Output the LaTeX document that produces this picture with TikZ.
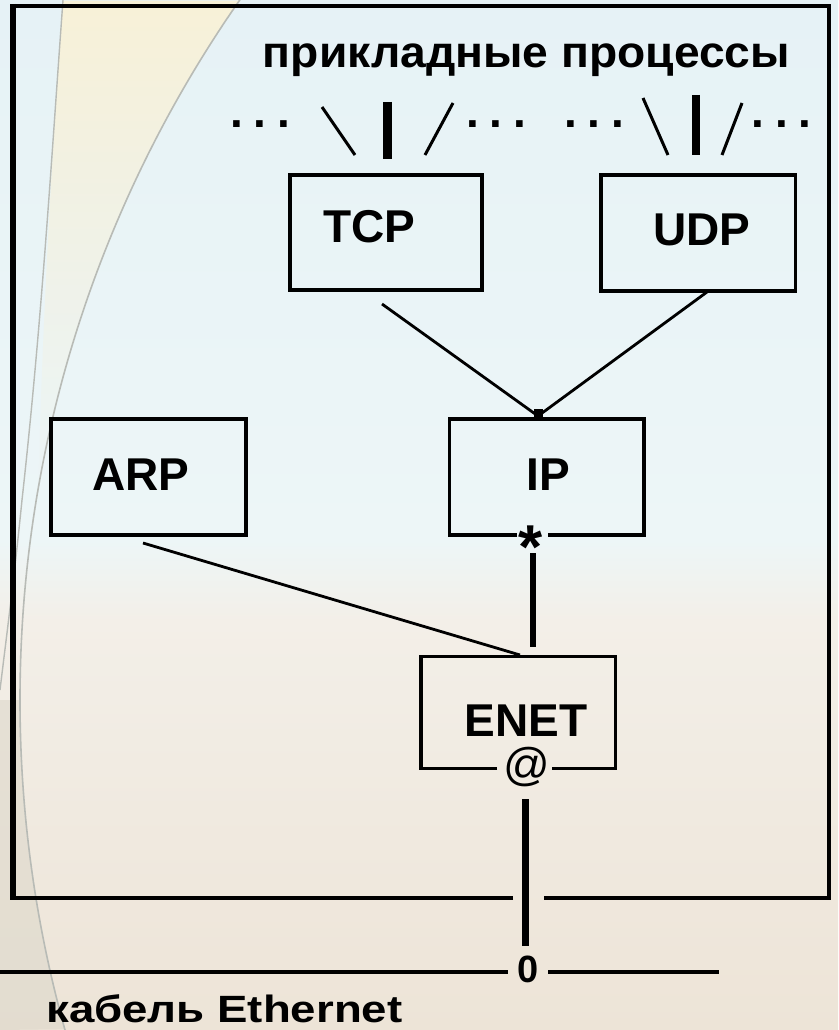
\documentclass[tikz,border=0pt]{standalone}
\usepackage{fontspec}
\setmainfont{Liberation Sans}
\newfontfamily\lblfont{Liberation Sans Bold}
\newfontfamily\topfont{Liberation Sans Bold}[FakeStretch=1.05]
\newfontfamily\cablefont{Liberation Sans Bold}[FakeStretch=1.2]
\usetikzlibrary{fadings}
\definecolor{bgtop}{HTML}{E6F2F6}
\definecolor{bgmid}{HTML}{F6FAFA}
\definecolor{bgband}{HTML}{EDF6F7}
\definecolor{bglow}{HTML}{F3EFE8}
\definecolor{bgbot}{HTML}{EDE4D7}
\definecolor{arcgrey}{HTML}{B8BBB6}
\definecolor{lensyellow}{HTML}{F8F1D8}
\definecolor{edgeblue}{HTML}{9CC8DC}
\definecolor{cornergrey}{HTML}{DDD8CB}
\tikzfading[name=vfade, top color=transparent!100, middle color=transparent!0, bottom color=transparent!100]
\begin{document}
\begin{tikzpicture}[x=1pt,y=-1pt,
  box/.style={draw=black, line width=3.5pt, rectangle, inner sep=0pt, outer sep=0pt},
  gapbox/.style={rectangle, inner sep=0pt, outer sep=0pt},
  boxline/.style={line width=3.5pt, line join=miter},
  lbl/.style={font=\lblfont\fontsize{46}{50}\selectfont, inner sep=0pt, anchor=base},
  dots/.style={font=\lblfont\fontsize{46}{50}\selectfont, inner sep=0pt, anchor=base},
  thinlink/.style={line width=2.8pt},
  slashline/.style={line width=3pt},
  barline/.style={line width=8.5pt},
  framethick/.style={line width=4.3pt},
]
\useasboundingbox (0,0) rectangle (838,1030);
% ---------- background ----------
\begin{scope}
  \clip (0,0) rectangle (838,1030);
  \shade[top color=bgtop, middle color=bgmid, bottom color=bgband] (0,0) rectangle (838,541);
  \shade[top color=bgband, bottom color=bglow] (0,540) rectangle (838,621);
  \shade[top color=bglow, bottom color=bgbot] (0,620) rectangle (838,1030);
  \fill[lensyellow, path fading=south] (63,0) -- (240,0)
     arc[start angle=214.9, end angle=190, radius=1224]
     .. controls (42,330) and (52,150) .. (63,0) -- cycle;
  \fill[edgeblue, path fading=vfade] (0,140) rectangle (11,660);
  \fill[cornergrey, opacity=0.6] (0,700) -- (20,700)
     arc[start angle=180, end angle=164.4, radius=1224] -- (0,1030) -- cycle;
  \draw[arcgrey, line width=1.6pt] (1244,700) circle[radius=1224];
  \draw[arcgrey, line width=1.4pt] (63,0) .. controls (52,150) and (42,320) .. (22,500)
     .. controls (14,580) and (6,640) .. (0,690);
\end{scope}
% ---------- outer frame ----------
\coordinate (fgl) at (513,898);
\coordinate (fgr) at (544,898);
\draw[framethick, line join=miter] (fgl) -- (13,898) -- (13,6) -- (829,6) -- (829,898) -- (fgr);
\draw[line width=6pt] (13,4) -- (13,900);
% ---------- title and process marks ----------
\node[font=\topfont\fontsize{44}{48}\selectfont, inner sep=0pt, anchor=base] (apps) at (526.5,68) {прикладные процессы};
\node[dots] (d1) at (260,128) {.\hspace{10.7pt}.\hspace{10.7pt}.};
\node[dots] (d2) at (496,128) {.\hspace{10.7pt}.\hspace{10.7pt}.};
\node[dots] (d3) at (594,128) {.\hspace{10.7pt}.\hspace{10.7pt}.};
\node[dots] (d4) at (781.5,128) {.\hspace{10.7pt}.\hspace{10.7pt}.};
\coordinate (tbs1) at (322,107); \coordinate (tbs2) at (355,155);
\coordinate (tb1) at (387.5,102); \coordinate (tb2) at (387.5,159);
\coordinate (ts1) at (453,103); \coordinate (ts2) at (425,155);
\coordinate (ubs1) at (643,98); \coordinate (ubs2) at (668,155);
\coordinate (ub1) at (696,95); \coordinate (ub2) at (696,155);
\coordinate (us1) at (742,103); \coordinate (us2) at (722,155);
\draw[slashline] (tbs1) -- (tbs2);
\draw[barline] (tb1) -- (tb2);
\draw[slashline] (ts1) -- (ts2);
\draw[slashline] (ubs1) -- (ubs2);
\draw[barline] (ub1) -- (ub2);
\draw[slashline] (us1) -- (us2);
% ---------- boxes ----------
\node[box, minimum width=192pt, minimum height=115pt] (tcp) at (386,232.5) {};
\node[box, minimum width=194.5pt, minimum height=116pt] (udp) at (698.25,233) {};
\node[box, minimum width=195pt, minimum height=116pt] (arp) at (148.5,477) {};
\node[gapbox, minimum width=194.5pt, minimum height=116pt] (ip) at (546.75,477) {};
\node[gapbox, minimum width=194.5pt, minimum height=112pt] (enet) at (518.25,712.5) {};
\coordinate (ipgl) at (517,535); \coordinate (ipgr) at (548,535);
\draw[boxline] (ipgl) -- (ip.south west) -- (ip.north west) -- (ip.north east) -- (ip.south east) -- (ipgr);
\coordinate (engl) at (497,768.5); \coordinate (engr) at (552,768.5);
\draw[boxline] (engl) -- (enet.south west) -- (enet.north west) -- (enet.north east) -- (enet.south east) -- (engr);
\node[lbl] (tcpl) at (369,242) {TCP};
\node[lbl] (udpl) at (702,245) {UDP};
\node[lbl] (arpl) at (141,490) {ARP};
\node[lbl] (ipl) at (548,490) {IP};
\node[lbl] (enetl) at (526,736) {ENET};
\node[font=\lblfont\fontsize{62}{66}\selectfont, inner sep=0pt, anchor=north] (star) at (530.5,526) {*};
\node[font=\fontsize{46}{50}\selectfont, inner sep=0pt] (atsign) at (527,767) {@};
% ---------- connectors ----------
\coordinate (tcpo) at (382,304);
\coordinate (udpo) at (707,292);
\coordinate (ipi) at (538,416);
\draw[thinlink] (tcpo) -- (ipi);
\draw[thinlink] (udpo) -- (ipi);
\node[fill=black, minimum width=9pt, minimum height=8pt, inner sep=0pt] (junction) at (538,413) {};
\coordinate (arpo) at (143,543);
\coordinate (eneti) at (520,655);
\draw[thinlink] (arpo) -- (eneti);
\coordinate (ipo) at (533,553);
\coordinate (enett) at (533,647);
\draw[line width=6pt] (ipo) -- (enett);
\coordinate (eneto) at (525.5,799);
\coordinate (tap) at (525.5,946);
\draw[line width=7pt] (eneto) -- (tap);
% ---------- cable ----------
\node[font=\lblfont\fontsize{38}{40}\selectfont, inner sep=0pt, anchor=base] (zero) at (528.5,982) {0};
\coordinate (cl1) at (0,972); \coordinate (cl2) at (508,972);
\coordinate (cr1) at (548,972); \coordinate (cr2) at (719,972);
\draw[line width=4.5pt] (cl1) -- (cl2);
\draw[line width=4.5pt] (cr1) -- (cr2);
\node[font=\cablefont\fontsize{38}{40}\selectfont, inner sep=0pt, anchor=base west] (cable) at (46,1022) {кабель Ethernet};
\end{tikzpicture}
\end{document}
